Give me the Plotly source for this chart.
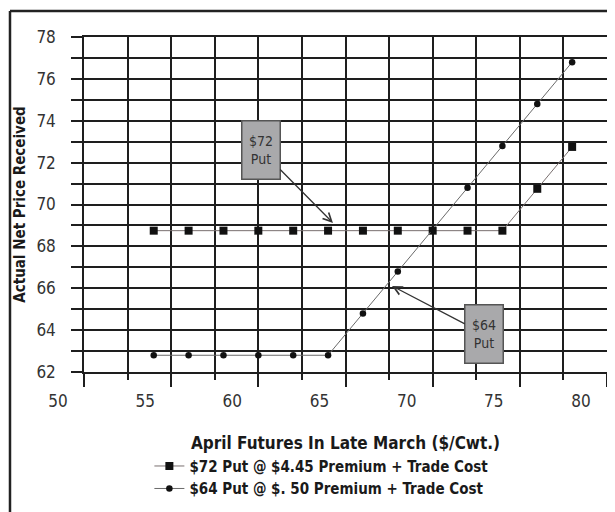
import plotly.graph_objects as go

# ---- data ----
futures = [54, 56, 58, 60, 62, 64, 66, 68, 70, 72, 74, 76, 78]
net_put72 = [68.75, 68.75, 68.75, 68.75, 68.75, 68.75, 68.75, 68.75, 68.75, 68.75, 68.75, 70.75, 72.75]
net_put64 = [62.8, 62.8, 62.8, 62.8, 62.8, 62.8, 64.8, 66.8, 68.8, 70.8, 72.8, 74.8, 76.8]
name72 = "$72 Put @ $4.45 Premium + Trade Cost"
name64 = "$64 Put @ $. 50 Premium + Trade Cost"
x_ticks = [50, 55, 60, 65, 70, 75, 80]
y_ticks = [62, 64, 66, 68, 70, 72, 74, 76, 78]

NARROW = "Liberation Sans Narrow, Arial Narrow, DejaVu Sans Condensed, sans-serif"
BOLDC = "DejaVu Sans Condensed, Liberation Sans Narrow, sans-serif"
GRID = "#1e1e1e"

fig = go.Figure()
fig.add_trace(go.Scatter(
    x=futures, y=net_put72, name=name72, mode="lines+markers",
    line=dict(color="#7a7070", width=1),
    marker=dict(symbol="square", size=8, color="#111111"),
))
fig.add_trace(go.Scatter(
    x=futures, y=net_put64, name=name64, mode="lines+markers",
    line=dict(color="#6a6a6a", width=1),
    marker=dict(symbol="circle", size=6.5, color="#111111"),
))

fig.add_annotation(
    x=64.28, y=69.12, xref="x", yref="y", text="$72<br>Put",
    showarrow=True, ax=-72, ay=-73, arrowhead=5, arrowsize=1.3, arrowwidth=1.3,
    arrowcolor="#333333", bgcolor="#a9a9ab", bordercolor="#555555", borderwidth=1.5,
    borderpad=1, width=35, height=55,
    font=dict(family=NARROW, size=14, color="#333333"),
)
fig.add_annotation(
    x=67.67, y=66.11, xref="x", yref="y", text="$64<br>Put",
    showarrow=True, ax=92, ay=48, arrowhead=5, arrowsize=1.3, arrowwidth=1.3,
    arrowcolor="#333333", bgcolor="#a9a9ab", bordercolor="#555555", borderwidth=1.5,
    borderpad=1, width=35, height=55,
    font=dict(family=NARROW, size=14, color="#333333"),
)

# outer frame (left and top edges of the scanned figure)
fig.add_shape(type="line", xref="paper", yref="paper", x0=-0.1415, x1=-0.1415,
              y0=1.0776, y1=-0.45, line=dict(color="#222222", width=2.5))
fig.add_shape(type="line", xref="paper", yref="paper", x0=-0.1415, x1=1.05,
              y0=1.0776, y1=1.0776, line=dict(color="#222222", width=2.5))

fig.update_layout(
    width=615, height=512,
    margin=dict(l=76, r=16, t=29, b=148, autoexpand=False),
    paper_bgcolor="white", plot_bgcolor="white",
    showlegend=True,
    legend=dict(x=0.125, y=-0.232, xanchor="left", yanchor="top",
                font=dict(family=BOLDC, size=15, color="#1a1a1a", weight="bold"),
                bgcolor="rgba(0,0,0,0)", tracegroupgap=0, itemwidth=30),
)
fig.update_xaxes(
    automargin=False,
    range=[50, 80], tickvals=x_ticks, ticktext=[str(v) for v in x_ticks],
    showgrid=True, gridcolor=GRID, gridwidth=1.5,
    ticks="outside", ticklen=13, tickwidth=1.5, tickcolor=GRID,
    ticklabelshift=-26,
    minor=dict(dtick=2.5, showgrid=True, gridcolor=GRID, gridwidth=1.5,
               ticks="outside", ticklen=6, tickwidth=1.5, tickcolor=GRID),
    showline=True, mirror=True, linecolor=GRID, linewidth=1.5, zeroline=False,
    tickfont=dict(family=NARROW, size=17, color="#333333"),
    title=dict(text="April Futures In Late March ($/Cwt.)", standoff=27,
               font=dict(family=BOLDC, size=17, color="#1a1a1a", weight="bold")),
)
fig.update_yaxes(
    automargin=False,
    range=[62, 78], tickvals=y_ticks,
    showgrid=True, gridcolor=GRID, gridwidth=1.5,
    ticks="outside", ticklen=11, tickwidth=1.5, tickcolor=GRID,
    minor=dict(dtick=1, showgrid=True, gridcolor=GRID, gridwidth=1.5,
               ticks="outside", ticklen=11, tickwidth=1.5, tickcolor=GRID),
    showline=True, mirror=True, linecolor=GRID, linewidth=1.5, zeroline=False,
    ticklabelstandoff=12,
    tickfont=dict(family=NARROW, size=17, color="#333333"),
    title=dict(text="Actual Net Price Received", standoff=7,
               font=dict(family=BOLDC, size=15, color="#1a1a1a", weight="bold")),
)

fig.write_html("out.html")
